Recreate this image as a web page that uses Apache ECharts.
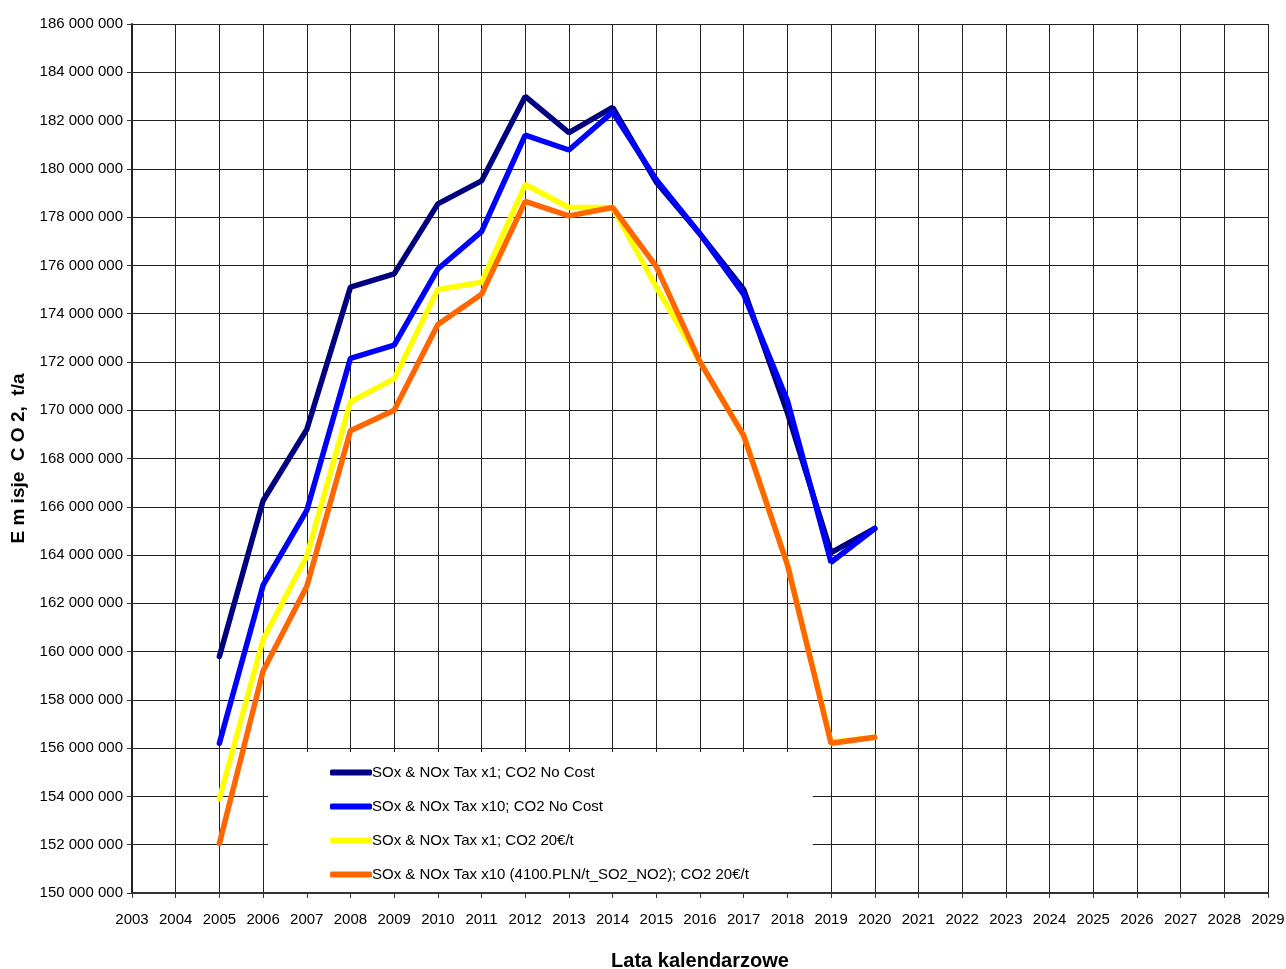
<!DOCTYPE html>
<html>
<head>
<meta charset="utf-8">
<title>Emisje CO2</title>
<script src="https://cdn.jsdelivr.net/npm/echarts@6/dist/echarts.min.js"></script>
<style>
	html, body { margin: 0; padding: 0; background: #fff; }
	#chart { width: 1286px; height: 969px; }
</style>
</head>
<body>
<div id="chart"></div>
<script>
// lata i emisje (mln t/a)
var years = [2005, 2006, 2007, 2008, 2009, 2010, 2011, 2012, 2013, 2014, 2015, 2016, 2017, 2018, 2019, 2020]
var seriesNames = [
	'SOx & NOx Tax x1; CO2 No Cost',
	'SOx & NOx Tax x10; CO2 No Cost',
	'SOx & NOx Tax x1; CO2 20€/t',
	'SOx & NOx Tax x10 (4100.PLN/t_SO2_NO2); CO2 20€/t'
]
var tax1NoCost = [159.8, 166.25, 169.2, 175.1, 175.65, 178.55, 179.5, 183.0, 181.5, 182.55, 179.45, 177.3, 175.0, 169.9, 164.1, 165.1]
var tax10NoCost = [156.2, 162.75, 165.85, 172.15, 172.7, 175.85, 177.4, 181.4, 180.78, 182.35, 179.55, 177.3, 174.8, 170.4, 163.7, 165.1]
var tax1Co2 = [153.9, 160.5, 163.95, 170.35, 171.3, 175.0, 175.3, 179.35, 178.4, 178.4, 175.1, 172.0, 168.95, 163.6, 156.25, 156.45]
var tax10Co2 = [152.05, 159.2, 162.7, 169.15, 170.0, 173.55, 174.8, 178.65, 178.05, 178.4, 175.95, 172.0, 168.95, 163.6, 156.2, 156.45]
var colors = ['#000080', '#0000ff', '#ffff00', '#ff6600']

var font = "'Liberation Sans', Arial, sans-serif"

function toPairs(values) {
	return values.map(function(v, i) {
		return [years[i], v * 1000000]
	})
}

// 186000000 -> "186 000 000"
function spaced(v) {
	return String(v).replace(/\B(?=(\d{3})+(?!\d))/g, ' ')
}

var allSeries = [tax1NoCost, tax10NoCost, tax1Co2, tax10Co2].map(function(vals, i) {
	return {
		name: seriesNames[i],
		type: 'line',
		data: toPairs(vals),
		symbol: 'none',
		color: colors[i],
		lineStyle: { color: colors[i], width: 5.5, cap: 'round' },
		z: 3 + i
	}
})

var chart = echarts.init(document.getElementById('chart'))
chart.setOption({
	animation: false,
	backgroundColor: '#fff',
	grid: {
		left: 132,
		right: 18,
		top: 24,
		bottom: 76,
		outerBoundsMode: 'none'
	},
	legend: {
		orient: 'vertical',
		left: 268,
		top: 752,
		icon: 'roundRect',
		itemWidth: 42,
		itemHeight: 6,
		itemGap: 19,
		padding: [13, 64, 10, 62],
		backgroundColor: '#fff',
		z: 10,
		textStyle: {
			fontFamily: font,
			fontSize: 15,
			color: '#000',
			padding: [0, 0, 0, -5]
		},
		data: seriesNames
	},
	xAxis: {
		type: 'value',
		min: 2003,
		max: 2029,
		interval: 1,
		name: 'Lata kalendarzowe',
		nameLocation: 'middle',
		nameGap: 58,
		nameTextStyle: {
			fontFamily: font,
			fontSize: 20,
			fontWeight: 'bold',
			color: '#000'
		},
		axisLine: { lineStyle: { color: '#333', width: 2 } },
		axisTick: { show: true, length: 5, lineStyle: { color: '#333' } },
		axisLabel: {
			margin: 19,
			fontFamily: font,
			fontSize: 15,
			color: '#000',
			showMaxLabel: true,
			formatter: function(v) {
				return String(v)
			}
		},
		splitLine: { show: true, lineStyle: { color: '#222', width: 1 } }
	},
	yAxis: {
		type: 'value',
		min: 150000000,
		max: 186000000,
		interval: 2000000,
		name: 'E m isje  C O 2,  t/a',
		nameLocation: 'middle',
		nameGap: 102,
		nameTextStyle: {
			fontFamily: font,
			fontSize: 19,
			fontWeight: 'bold',
			color: '#000'
		},
		axisLine: { show: true, lineStyle: { color: '#222', width: 2 } },
		axisTick: { show: true, length: 5, lineStyle: { color: '#333' } },
		axisLabel: {
			margin: 9,
			fontFamily: font,
			fontSize: 15,
			color: '#000',
			formatter: spaced
		},
		splitLine: { show: true, lineStyle: { color: '#222', width: 1 } }
	},
	series: allSeries
})
</script>
</body>
</html>
